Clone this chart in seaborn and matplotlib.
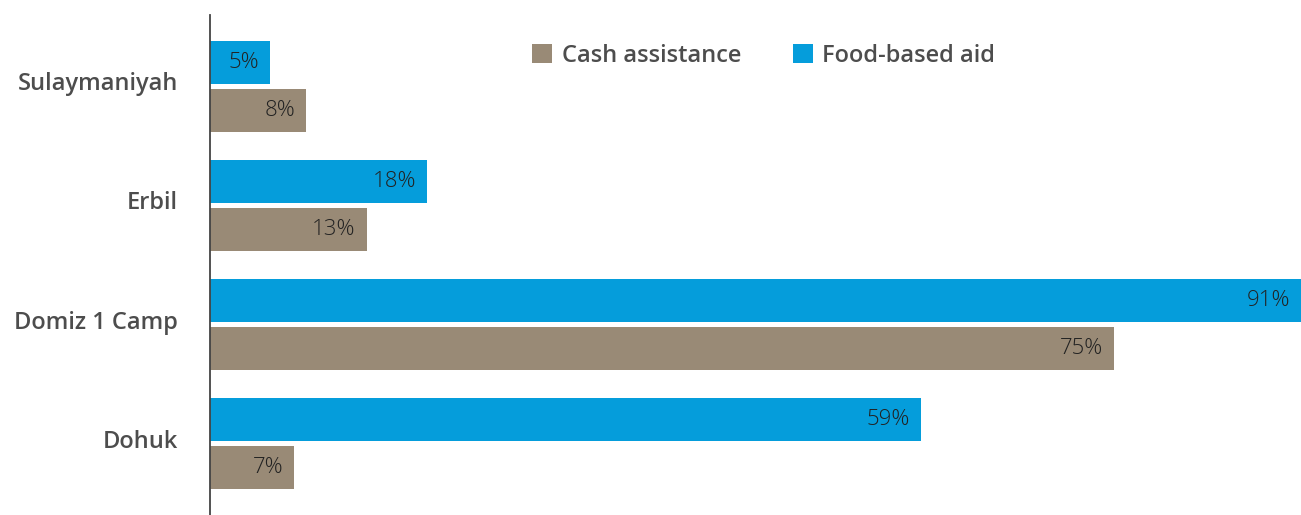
import pandas as pd
import matplotlib
matplotlib.use('Agg')
import matplotlib.pyplot as plt
import matplotlib.transforms as mtransforms
from matplotlib.patches import Patch
import seaborn as sns

# ── Data ──────────────────────────────────────────────────────────────────────
regions = ['Sulaymaniyah', 'Erbil', 'Domiz 1 Camp', 'Dohuk']
food_aid = [5, 18, 91, 59]
cash_aid = [8, 13, 75, 7]
aid_types = ['Food-based aid', 'Cash assistance']

COLORS = {'Food-based aid': '#059ddb', 'Cash assistance': '#998a76'}
LABEL = '#4d4d4d'
VALUE = '#222222'
XMAX = 90.5

df = pd.DataFrame({
    'region': regions * 2,
    'aid': [aid_types[0]] * len(regions) + [aid_types[1]] * len(regions),
    'share': food_aid + cash_aid,
})

sns.set_style('white')
plt.rcParams['font.family'] = ['Open Sans', 'DejaVu Sans']

fig = plt.figure(figsize=(13.01, 5.15), dpi=100)
ax = fig.add_axes([210 / 1301, 0, 1091 / 1301, 500 / 515])

sns.barplot(data=df, y='region', x='share', hue='aid', order=regions,
            hue_order=aid_types, palette=COLORS, orient='h',
            width=0.8, gap=0.1, saturation=1, linewidth=0, legend=False, ax=ax)

ax.set_xlim(0, XMAX)
ax.set_ylim(3.6, -0.6)
ax.set_xlabel('')
ax.set_ylabel('')
ax.set_xticks([])
for s in ['top', 'right', 'bottom']:
    ax.spines[s].set_visible(False)
ax.spines['left'].set_color('#444444')
ax.spines['left'].set_linewidth(1.3)
ax.tick_params(axis='y', length=0, pad=23)
lift = mtransforms.ScaledTranslation(0, 0.05, fig.dpi_scale_trans)
for t in ax.get_yticklabels():
    t.set_fontsize(17)
    t.set_fontweight('semibold')
    t.set_color(LABEL)
    t.set_transform(t.get_transform() + lift)

# value labels just inside bar ends
for cont in ax.containers:
    for bar, val in zip(cont.patches, cont.datavalues):
        yc = bar.get_y() + bar.get_height() / 2
        ax.annotate(f'{val:g}%', xy=(min(val, XMAX), yc), xytext=(-8, 0),
                    textcoords='offset points', ha='right', va='center',
                    fontsize=16, fontweight='light', color=VALUE)

handles = [Patch(facecolor=COLORS[a], edgecolor='none', label=a) for a in aid_types[::-1]]
fig.legend(handles=handles, loc='center left', bbox_to_anchor=(532 / 1301, 1 - 56 / 515),
           ncol=2, frameon=False, borderpad=0, borderaxespad=0,
           handlelength=0.85, handleheight=0.85, handletextpad=0.4, columnspacing=2.2,
           prop={'size': 17, 'weight': 'semibold'}, labelcolor=LABEL)

plt.savefig('out.png', dpi=100)
plt.close()
